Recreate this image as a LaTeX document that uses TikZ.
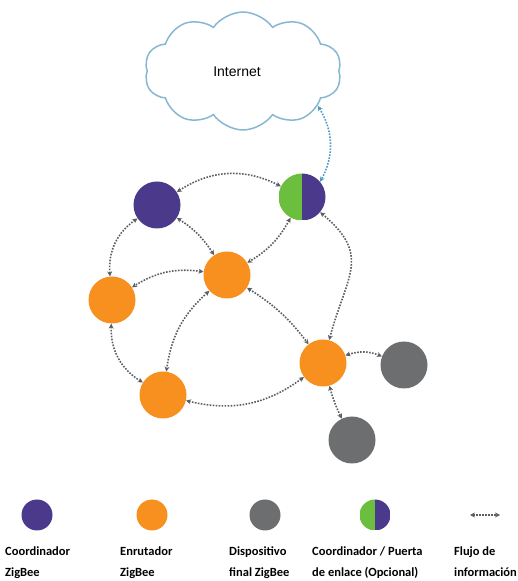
\documentclass[tikz,border=0pt]{standalone}
\usepackage{fontspec}
\setmainfont{Carlito}
\newfontfamily\inetfont{Liberation Sans}
\usetikzlibrary{shapes.symbols,arrows.meta}
\definecolor{zbpurple}{HTML}{4B3A8C}
\definecolor{zborange}{HTML}{F7901E}
\definecolor{zbgray}{HTML}{6D6E70}
\definecolor{zbgreen}{HTML}{6CBF3E}
\definecolor{flowgray}{HTML}{5A5F66}
\definecolor{cloudblue}{HTML}{86B8D2}
\definecolor{linkblue}{HTML}{4E9CC4}
\tikzset{
  dev/.style={circle,minimum size=47pt,inner sep=0pt},
  coord/.style={dev,fill=zbpurple},
  router/.style={dev,fill=zborange},
  enddev/.style={dev,fill=zbgray},
  gateway/.style={dev,path picture={
    \fill[zbgreen] (path picture bounding box.south west) rectangle (path picture bounding box.north);
    \fill[zbpurple] (path picture bounding box.south) rectangle (path picture bounding box.north east);}},
  small/.style={minimum size=31pt},
  flow/.style={draw=flowgray,line width=1.6pt,dash pattern=on 1.6pt off 1.4pt,
    {Stealth[length=5pt,width=5pt]}-{Stealth[length=5pt,width=5pt]}},
  legtext/.style={anchor=base west,inner sep=0pt,align=left,
    font=\bfseries\fontsize{12.5}{21}\selectfont}
}
\begin{document}
\begin{tikzpicture}[x=1pt,y=1pt]
  \useasboundingbox (0,0) rectangle (517,581);
  % cloud
  \node[cloud,cloud puffs=10,cloud puff arc=110,aspect=1.67,minimum width=197pt,minimum height=118pt,
    draw=cloudblue,line width=1.5pt,fill=white] (inet) at (243,510) {};
  \node[font=\inetfont\fontsize{14}{16}\selectfont] (inettext) at (237,509) {Internet};
  % network
  \node[coord] (P) at (157,376) {};
  \node[gateway] (G) at (302,384) {};
  \node[router] (C) at (227,306) {};
  \node[router] (L) at (112,281) {};
  \node[router] (B) at (163,186) {};
  \node[router] (R) at (323,218) {};
  \node[enddev] (D1) at (404,216) {};
  \node[enddev] (D2) at (352,141) {};
  \draw[flow,draw=linkblue] (inet.-25) to[bend left=30] (G.40);
  \draw[flow] (P) to[bend left=30] (G);
  \draw[flow] (P) to[bend right=30] (L);
  \draw[flow] (P) to[bend left=12] (C);
  \draw[flow] (G) to[bend left=15] (C);
  \draw[flow] (G) to[out=-40,in=75,looseness=1.35] (R);
  \draw[flow] (C) to[bend right=20] (L);
  \draw[flow] (C) to[bend right=20] (B);
  \draw[flow] (C) to[bend left=10] (R);
  \draw[flow] (L) to[bend right=30] (B);
  \draw[flow] (B) to[bend right=25] (R);
  \draw[flow] (R) to[bend left=20] (D1);
  \draw[flow] (R) to[bend right=5] (D2);
  % legend
  \node[coord,small] (k1) at (37,66) {};
  \node[router,small] (k2) at (152,66) {};
  \node[enddev,small] (k3) at (265,66) {};
  \node[gateway,small] (k4) at (375,66) {};
  \coordinate (k5a) at (470,66);
  \coordinate (k5b) at (500,66);
  \draw[flow,line width=1.2pt] (k5a) -- (k5b);
  \node[legtext] (t1) at (5,5) {Coordinador\\ZigBee};
  \node[legtext] (t2) at (120,5) {Enrutador\\ZigBee};
  \node[legtext] (t3) at (229,5) {Dispositivo\\final ZigBee};
  \node[legtext] (t4) at (312,5) {Coordinador / Puerta\\de enlace (Opcional)};
  \node[legtext] (t5) at (454,5) {Flujo de\\información};
\end{tikzpicture}
\end{document}
